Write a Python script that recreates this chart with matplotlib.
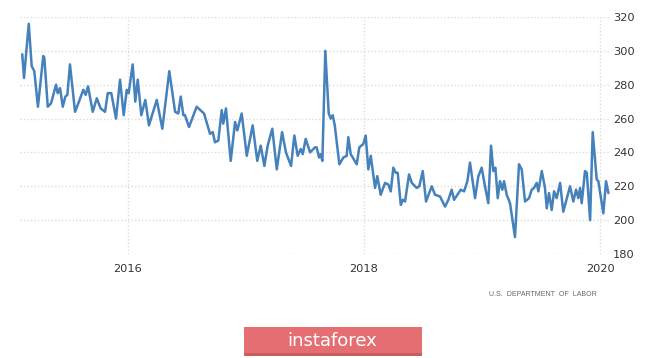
import matplotlib
matplotlib.use("Agg")
import matplotlib.pyplot as plt
from matplotlib.patches import Rectangle

# decimal-year positions and weekly initial claims (thousands)
dates = [
    2015.107, 2015.122, 2015.162, 2015.187, 2015.209, 2015.240, 2015.285, 2015.294, 2015.323, 2015.351,
    2015.393, 2015.407, 2015.427, 2015.450, 2015.472, 2015.489, 2015.511, 2015.554, 2015.582, 2015.624,
    2015.644, 2015.664, 2015.704, 2015.738, 2015.771, 2015.808, 2015.831, 2015.861, 2015.901, 2015.935,
    2015.966, 2015.992, 2016.008, 2016.042, 2016.064, 2016.085, 2016.115, 2016.149, 2016.180, 2016.206,
    2016.246, 2016.293, 2016.352, 2016.401, 2016.428, 2016.449, 2016.471, 2016.485, 2016.519, 2016.584,
    2016.646, 2016.697, 2016.720, 2016.739, 2016.767, 2016.796, 2016.809, 2016.832, 2016.872, 2016.909,
    2016.928, 2016.965, 2017.008, 2017.058, 2017.097, 2017.126, 2017.157, 2017.185, 2017.224, 2017.262,
    2017.307, 2017.340, 2017.383, 2017.411, 2017.439, 2017.465, 2017.482, 2017.507, 2017.544, 2017.586,
    2017.600, 2017.620, 2017.634, 2017.648, 2017.673, 2017.702, 2017.719, 2017.736, 2017.753, 2017.792,
    2017.826, 2017.854, 2017.868, 2017.888, 2017.939, 2017.961, 2017.995, 2018.015, 2018.037, 2018.058,
    2018.094, 2018.113, 2018.142, 2018.179, 2018.207, 2018.227, 2018.249, 2018.269, 2018.286, 2018.312,
    2018.329, 2018.348, 2018.382, 2018.405, 2018.447, 2018.469, 2018.498, 2018.526, 2018.574, 2018.602,
    2018.644, 2018.687, 2018.715, 2018.743, 2018.763, 2018.820, 2018.848, 2018.876, 2018.898, 2018.941,
    2018.969, 2018.997, 2019.025, 2019.053, 2019.076, 2019.096, 2019.113, 2019.133, 2019.152, 2019.172,
    2019.186, 2019.209, 2019.237, 2019.279, 2019.313, 2019.336, 2019.364, 2019.398, 2019.421, 2019.440,
    2019.463, 2019.477, 2019.506, 2019.533, 2019.548, 2019.567, 2019.590, 2019.610, 2019.632, 2019.661,
    2019.688, 2019.722, 2019.745, 2019.773, 2019.796, 2019.815, 2019.830, 2019.844, 2019.872, 2019.887,
    2019.915, 2019.937, 2019.971, 2019.985, 2020.005, 2020.027, 2020.050, 2020.070,
]
claims = [
    298, 284, 316, 291, 288, 267, 297, 296, 267, 269,
    280, 275, 278, 267, 273, 274, 292, 264, 269, 277,
    274, 279, 264, 272, 266, 264, 275, 275, 260, 283,
    262, 277, 275, 292, 270, 283, 262, 271, 256, 262,
    271, 254, 288, 264, 263, 273, 262, 262, 255, 267,
    263, 251, 252, 246, 247, 265, 257, 266, 235, 258,
    253, 263, 238, 256, 235, 244, 232, 244, 254, 230,
    252, 240, 232, 250, 238, 242, 239, 248, 240, 243,
    243, 237, 239, 235, 300, 263, 260, 262, 256, 233,
    237, 238, 249, 239, 233, 243, 245, 250, 230, 238,
    219, 226, 215, 222, 221, 217, 231, 228, 228, 209,
    212, 211, 227, 222, 219, 220, 229, 211, 220, 215,
    214, 208, 212, 218, 212, 218, 217, 223, 234, 213,
    226, 231, 220, 210, 244, 229, 231, 213, 223, 218,
    223, 215, 210, 190, 233, 230, 211, 213, 218, 219,
    222, 217, 229, 219, 207, 216, 206, 217, 213, 222,
    205, 214, 220, 211, 218, 213, 219, 210, 229, 228,
    200, 252, 224, 223, 214, 204, 223, 216,
]
year_ticks = [2016, 2018, 2020]
value_ticks = [180, 200, 220, 240, 260, 280, 300, 320]

W, H = 665, 358
fig = plt.figure(figsize=(W / 100, H / 100), dpi=100)
fig.patch.set_facecolor("white")

ax_l, ax_r, ax_t, ax_b = 20, 609, 17, 254
ax = fig.add_axes([ax_l / W, 1 - ax_b / H, (ax_r - ax_l) / W, (ax_b - ax_t) / H])
ax.set_facecolor("white")

ax.plot(dates, claims, color="#4581bb", lw=1.8, solid_joinstyle="round",
        solid_capstyle="round", zorder=3, clip_on=False)

ax.set_xlim(2015.088, 2020.075)
ax.set_ylim(180, 320)
ax.set_xticks(year_ticks)
ax.set_xticklabels([str(y) for y in year_ticks])
ax.set_yticks(value_ticks)
ax.yaxis.tick_right()
for s in ax.spines.values():
    s.set_visible(False)
ax.tick_params(axis="both", length=0, labelsize=8.2, colors="#333333")
ax.tick_params(axis="y", pad=3)
ax.tick_params(axis="x", pad=7)
ax.grid(True, color="#dcdcdc", linestyle=(0, (1, 1.5)), linewidth=1.0, zorder=0)
ax.set_axisbelow(True)

fig.text(597 / W, 1 - 295 / H, "U.S.  DEPARTMENT  OF  LABOR", ha="right", va="center",
         fontsize=5.0, color="#666666", family="Liberation Sans")

# instaforex badge
bx0, bx1, by0, by1 = 244, 422, 327, 356
fig.patches.append(Rectangle((bx0 / W, 1 - by1 / H), (bx1 - bx0) / W, (by1 - by0) / H,
                             transform=fig.transFigure, facecolor="#e46e71",
                             edgecolor="none", zorder=5))
fig.patches.append(Rectangle((bx0 / W, 1 - by1 / H), (bx1 - bx0) / W, 3 / H,
                             transform=fig.transFigure, facecolor="#c95e61",
                             edgecolor="none", zorder=6))
fig.text(332 / W, 1 - 341 / H, "instaforex", ha="center", va="center",
         fontsize=13, color="white", zorder=7)

fig.savefig("out.png", dpi=100, facecolor="white")
